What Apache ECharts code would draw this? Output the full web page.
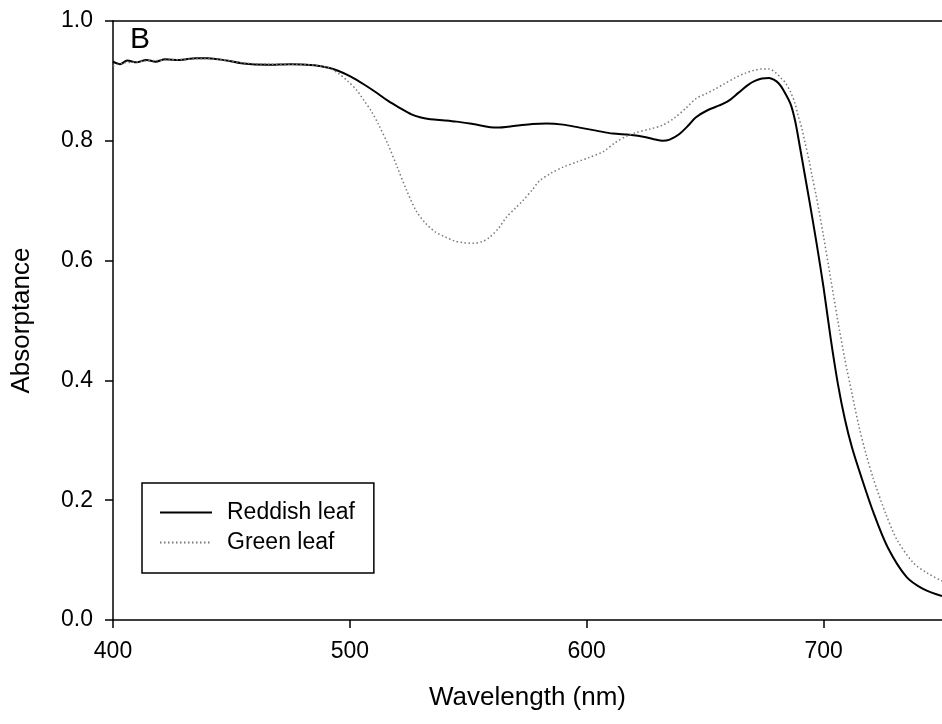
<!DOCTYPE html>
<html>
<head>
<meta charset="utf-8">
<script src="https://cdn.jsdelivr.net/npm/echarts@6/dist/echarts.min.js"></script>
<style>
  html, body { margin: 0; padding: 0; background: #fff; }
  #main { width: 942px; height: 724px; }
</style>
</head>
<body>
<div id="main"></div>
<script>
// wavelengths (nm) and absorptance
const reddishWl = [400, 403, 406, 410, 414, 418, 422, 428, 435, 440, 448, 455, 465, 475, 485, 491, 495,
  500, 506, 511, 516, 521, 526, 530, 534, 540, 545, 552, 562, 570, 577, 583, 590, 597, 604, 611, 618, 625,
  629, 632, 635, 639, 643, 646, 651, 656, 660, 664, 668, 671, 674, 677, 679, 681, 683, 686, 688, 690, 692,
  694, 697, 700, 703, 706, 709, 712, 716, 721, 727, 735, 742, 750];
const reddishVal = [0.932, 0.928, 0.934, 0.931, 0.935, 0.932, 0.936, 0.935, 0.938, 0.938, 0.934, 0.929, 0.927, 0.928, 0.926, 0.922, 0.917,
  0.908, 0.894, 0.881, 0.867, 0.855, 0.844, 0.839, 0.836, 0.834, 0.832, 0.828, 0.822, 0.825, 0.828, 0.829, 0.827, 0.822, 0.817, 0.812, 0.810, 0.806,
  0.802, 0.800, 0.802, 0.811, 0.826, 0.839, 0.851, 0.859, 0.867, 0.880, 0.893, 0.900, 0.904, 0.905, 0.902, 0.896, 0.885, 0.862, 0.833, 0.790, 0.745,
  0.700, 0.630, 0.555, 0.470, 0.395, 0.335, 0.288, 0.238, 0.180, 0.122, 0.072, 0.052, 0.040];

const greenWl = [400, 404, 408, 413, 418, 424, 430, 438, 445, 455, 465, 475, 483, 487, 491, 495, 499, 503,
  506, 509, 512, 516, 520, 524, 528, 532, 536, 540, 544, 548, 552, 556, 559, 563, 566, 570, 573, 577, 580, 585,
  590, 596, 601, 607, 612, 617, 621, 627, 632, 637, 642, 646, 650, 654, 658, 663, 667, 671, 674, 677, 680, 682,
  684, 686, 688, 689, 691, 692, 694, 695, 697, 700, 703, 706, 709, 712, 715, 718, 721, 726, 731, 738, 744, 750];
const greenVal = [0.925, 0.930, 0.931, 0.933, 0.934, 0.935, 0.936, 0.937, 0.936, 0.930, 0.928, 0.928, 0.927, 0.925, 0.922, 0.913, 0.900, 0.884,
  0.867, 0.850, 0.828, 0.795, 0.756, 0.717, 0.683, 0.662, 0.648, 0.640, 0.633, 0.630, 0.629, 0.632, 0.639, 0.655, 0.672, 0.688, 0.700, 0.718, 0.733, 0.746,
  0.756, 0.765, 0.772, 0.782, 0.797, 0.808, 0.814, 0.820, 0.826, 0.838, 0.855, 0.870, 0.878, 0.886, 0.895, 0.906, 0.913, 0.918, 0.920, 0.920, 0.913, 0.905,
  0.896, 0.882, 0.862, 0.846, 0.818, 0.800, 0.765, 0.744, 0.706, 0.640, 0.570, 0.500, 0.435, 0.378, 0.322, 0.276, 0.236, 0.180, 0.134, 0.095, 0.078, 0.065];

const xTicks = [400, 500, 600, 700];
const yTicks = [0.0, 0.2, 0.4, 0.6, 0.8, 1.0];

const toPairs = (xs, ys) => xs.map((x, i) => [x, ys[i]]);

const chart = echarts.init(document.getElementById('main'));
const font = 'Liberation Sans';

chart.setOption({
  animation: false,
  backgroundColor: '#fff',
  textStyle: { fontFamily: font, color: '#000' },
  title: {
    text: 'B',
    left: 130,
    top: 25,
    padding: 0,
    textStyle: { fontFamily: font, fontSize: 30, fontWeight: 'normal', color: '#000' }
  },
  legend: {
    left: 142,
    top: 483,
    orient: 'vertical',
    padding: [18, 19, 19, 17],
    itemGap: 7,
    itemWidth: 52,
    itemHeight: 20,
    borderColor: '#000',
    borderWidth: 1.5,
    borderRadius: 0,
    itemStyle: { opacity: 0 },
    textStyle: { fontFamily: font, fontSize: 23, color: '#000', padding: [0, 0, 0, 10] },
    data: ['Reddish leaf', 'Green leaf']
  },
  grid: { left: 113, top: 21, right: -7, bottom: 104 },
  xAxis: [
    {
      type: 'value',
      min: xTicks[0],
      max: 750,
      interval: 100,
      name: 'Wavelength (nm)',
      nameLocation: 'middle',
      nameGap: 65,
      nameTextStyle: { fontFamily: font, fontSize: 26, color: '#000' },
      axisLine: { show: true, onZero: false, lineStyle: { color: '#000', width: 1.5 } },
      axisTick: { show: true, inside: false, length: 8, lineStyle: { color: '#000', width: 1.5 } },
      axisLabel: {
        margin: 20, fontFamily: font, fontSize: 23, color: '#000',
        showMaxLabel: false,
        formatter: v => (xTicks.includes(v) ? String(v) : '')
      },
      splitLine: { show: false }
    },
    {
      type: 'value',
      position: 'top',
      min: xTicks[0],
      max: 750,
      axisLine: { show: true, onZero: false, lineStyle: { color: '#000', width: 1.5 } },
      axisTick: { show: false },
      axisLabel: { show: false },
      splitLine: { show: false }
    }
  ],
  yAxis: {
    type: 'value',
    min: yTicks[0],
    max: yTicks[yTicks.length - 1],
    interval: 0.2,
    name: 'Absorptance',
    nameLocation: 'middle',
    nameGap: 78,
    nameTextStyle: { fontFamily: font, fontSize: 26, color: '#000' },
    axisLine: { show: true, lineStyle: { color: '#000', width: 1.5 } },
    axisTick: { show: true, inside: false, length: 8, lineStyle: { color: '#000', width: 1.5 } },
    axisLabel: { margin: 20, fontFamily: font, fontSize: 23, color: '#000', formatter: v => v.toFixed(1) },
    splitLine: { show: false }
  },
  series: [
    {
      name: 'Reddish leaf',
      type: 'line',
      data: toPairs(reddishWl, reddishVal),
      smooth: 0.3,
      symbol: 'none',
      lineStyle: { color: '#000', width: 2 },
      itemStyle: { color: '#000' }
    },
    {
      name: 'Green leaf',
      type: 'line',
      data: toPairs(greenWl, greenVal),
      smooth: 0.3,
      symbol: 'none',
      lineStyle: { color: '#777', width: 1.5, type: [1.5, 2.5] },
      itemStyle: { color: '#777' }
    }
  ]
});
</script>
</body>
</html>
